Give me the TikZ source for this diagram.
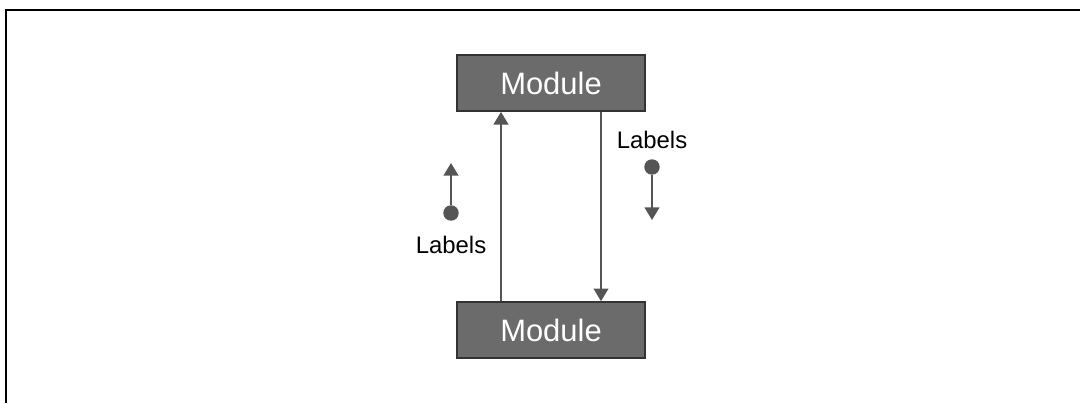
\documentclass[tikz,border=0pt]{standalone}
\usepackage{fontspec}
\setmainfont{Liberation Sans}
\usetikzlibrary{arrows.meta,positioning}

\definecolor{modfill}{HTML}{6B6B6B}
\definecolor{modedge}{HTML}{333333}
\definecolor{wire}{HTML}{555555}

\begin{document}
\begin{tikzpicture}[x=0.025cm, y=-0.025cm,
        module/.style={draw=modedge, fill=modfill, line width=1.2pt, minimum width=4.7cm, minimum height=1.4cm, inner sep=0, text=white, font=\fontsize{22}{24}\selectfont},
        tag/.style={inner sep=0, font=\fontsize{17}{19}\selectfont},
        dot/.style={circle, fill=wire, inner sep=0, minimum size=11pt},
        wire/.style={draw=wire, line width=1.3pt, -{Triangle[length=9pt,width=10.5pt]}}]
        \useasboundingbox (0,0) rectangle (1080,403);
        \draw [line width=1.8pt] (6,403) -- (6,10) -- (1080,10);

        \node [module] (top) at (551,83) {Module};
        \node [module] (bot) at (551,330) {Module};
        \draw [wire] ([xshift=-1.25cm]bot.north) -- ([xshift=-1.25cm]top.south);
        \draw [wire] ([xshift=1.25cm]top.south) -- ([xshift=1.25cm]bot.north);

        \node [dot] (ldot) at (451,213) {};
        \coordinate (ltip) at (451,163);
        \node [tag] (ltag) at (451,245) {Labels};
        \draw [wire] (ldot) -- (ltip);

        \node [dot] (rdot) at (652,167) {};
        \coordinate (rtip) at (652,220);
        \node [tag] (rtag) at (652,140) {Labels};
        \draw [wire] (rdot) -- (rtip);
    \end{tikzpicture}
\end{document}
